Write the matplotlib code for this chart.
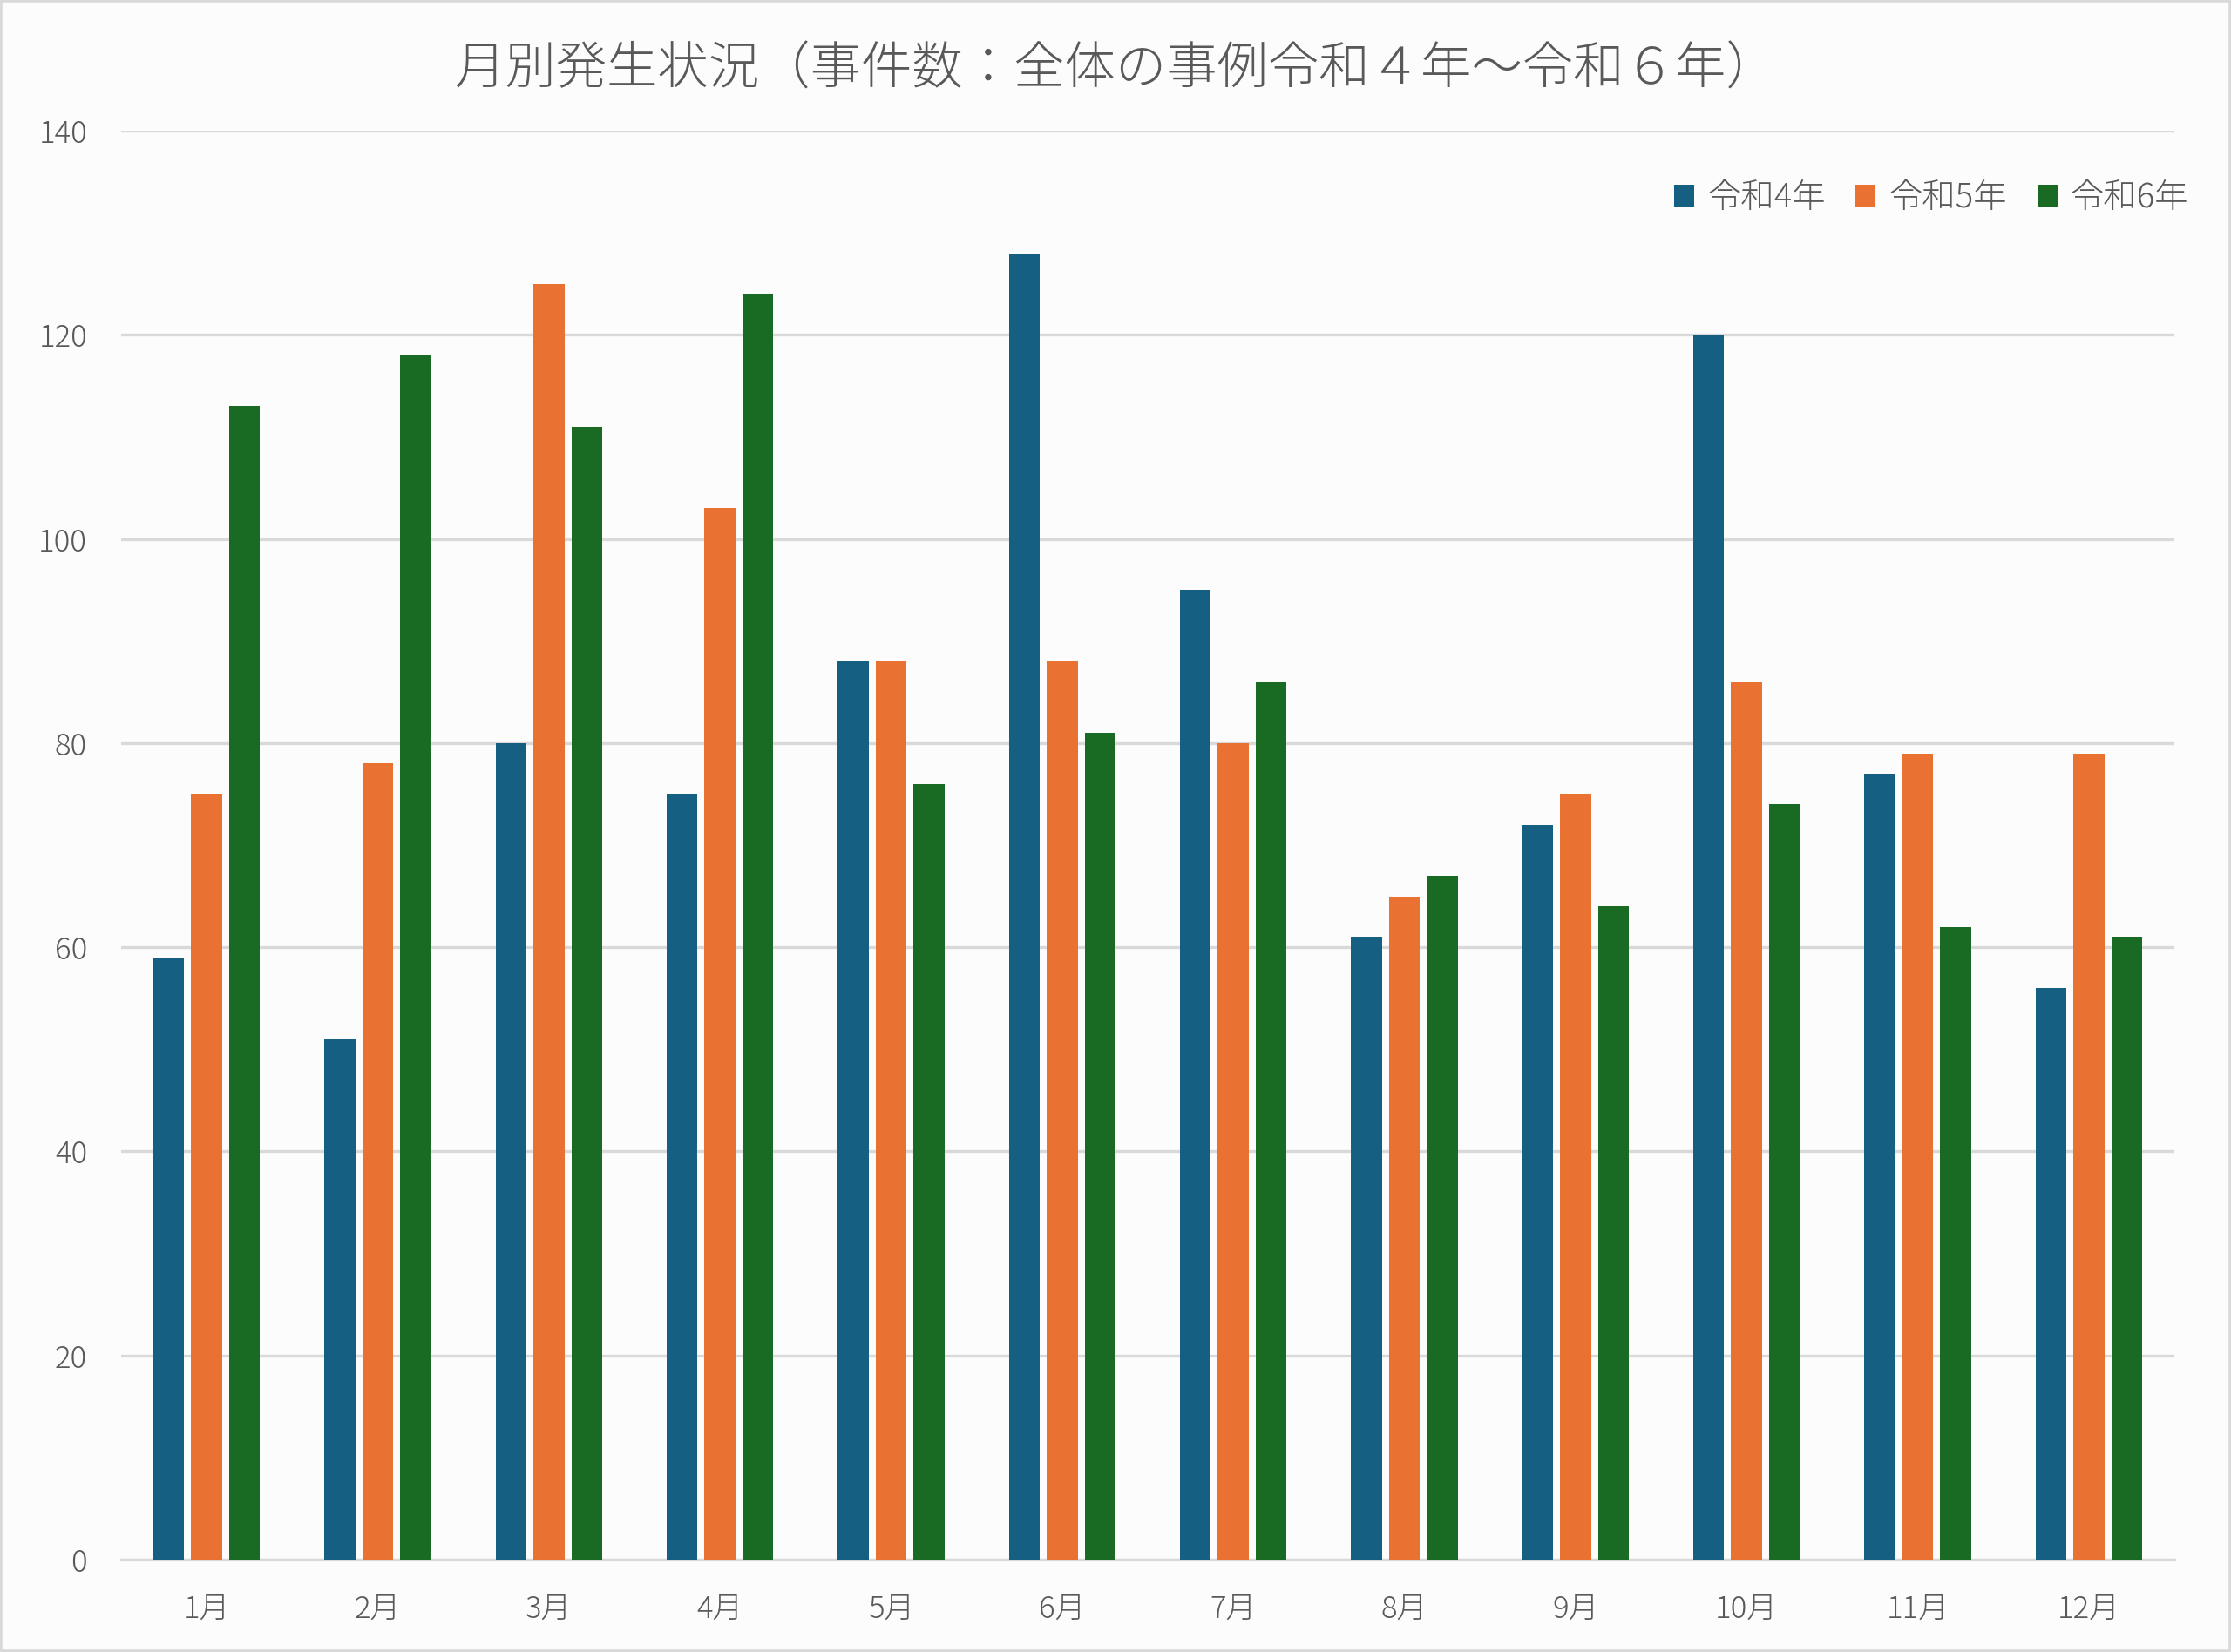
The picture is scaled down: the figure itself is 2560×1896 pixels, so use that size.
import numpy as np
import matplotlib.pyplot as plt
from matplotlib.patches import Rectangle

plt.rcParams['font.family'] = ['Noto Sans CJK JP', 'DejaVu Sans']

months = ['1月', '2月', '3月', '4月', '5月', '6月', '7月', '8月', '9月', '10月', '11月', '12月']
r4 = [59, 51, 80, 75, 88, 128, 95, 61, 72, 120, 77, 56]
r5 = [75, 78, 125, 103, 88, 88, 80, 65, 75, 86, 79, 79]
r6 = [113, 118, 111, 124, 76, 81, 86, 67, 64, 74, 62, 61]
series = [('令和4年', r4, '#156082'), ('令和5年', r5, '#E97132'), ('令和6年', r6, '#196B24')]
title = '月別発生状況（事件数：全体の事例令和４年～令和６年）'

txt = '#595959'
fig = plt.figure(figsize=(12.8, 9.48), dpi=200, facecolor='#FCFCFC')
ax = fig.add_axes([139 / 2560, 1 - 1790 / 1896, (2495 - 139) / 2560, (1790 - 150) / 1896])
ax.set_facecolor('#FCFCFC')

x = np.arange(len(months))
w = 0.18
step = 0.222
for i, (name, vals, col) in enumerate(series):
    ax.bar(x + (i - 1) * step, vals, w, color=col, label=name, zorder=3)

ax.set_xlim(-0.5, 11.5)
ax.set_ylim(0, 140)
ax.set_yticks(range(0, 141, 20))
ax.set_xticks(x)
ax.set_xticklabels(months)
ax.grid(axis='y', color='#D9D9D9', linewidth=1.2, zorder=0)
for s in ['top', 'right', 'left']:
    ax.spines[s].set_visible(False)
ax.spines['bottom'].set_color('#D9D9D9')
ax.spines['bottom'].set_linewidth(1.2)
ax.tick_params(axis='both', length=0, colors=txt, labelsize=12.5)
ax.tick_params(axis='y', pad=14)
ax.tick_params(axis='x', pad=14)
for lab in ax.get_xticklabels() + ax.get_yticklabels():
    lab.set_fontweight('light')

fig.text(0.5, 1 - 80 / 1896, title, ha='center', va='center', fontsize=21, color=txt, fontweight='light')

leg = ax.legend(loc='upper right', bbox_to_anchor=(1.007, 0.965), borderaxespad=0, borderpad=0,
                ncol=3, frameon=False, handlelength=0.6, handleheight=0.6,
                handletextpad=0.4, columnspacing=0.9,
                prop={'size': 13.8, 'weight': 'light'})
for t in leg.get_texts():
    t.set_color(txt)

fig.patches.append(Rectangle((0, 0), 1, 1, transform=fig.transFigure, fill=False,
                             edgecolor='#D9D9D9', linewidth=2))

fig.savefig('out.png', dpi=200, facecolor=fig.get_facecolor())
